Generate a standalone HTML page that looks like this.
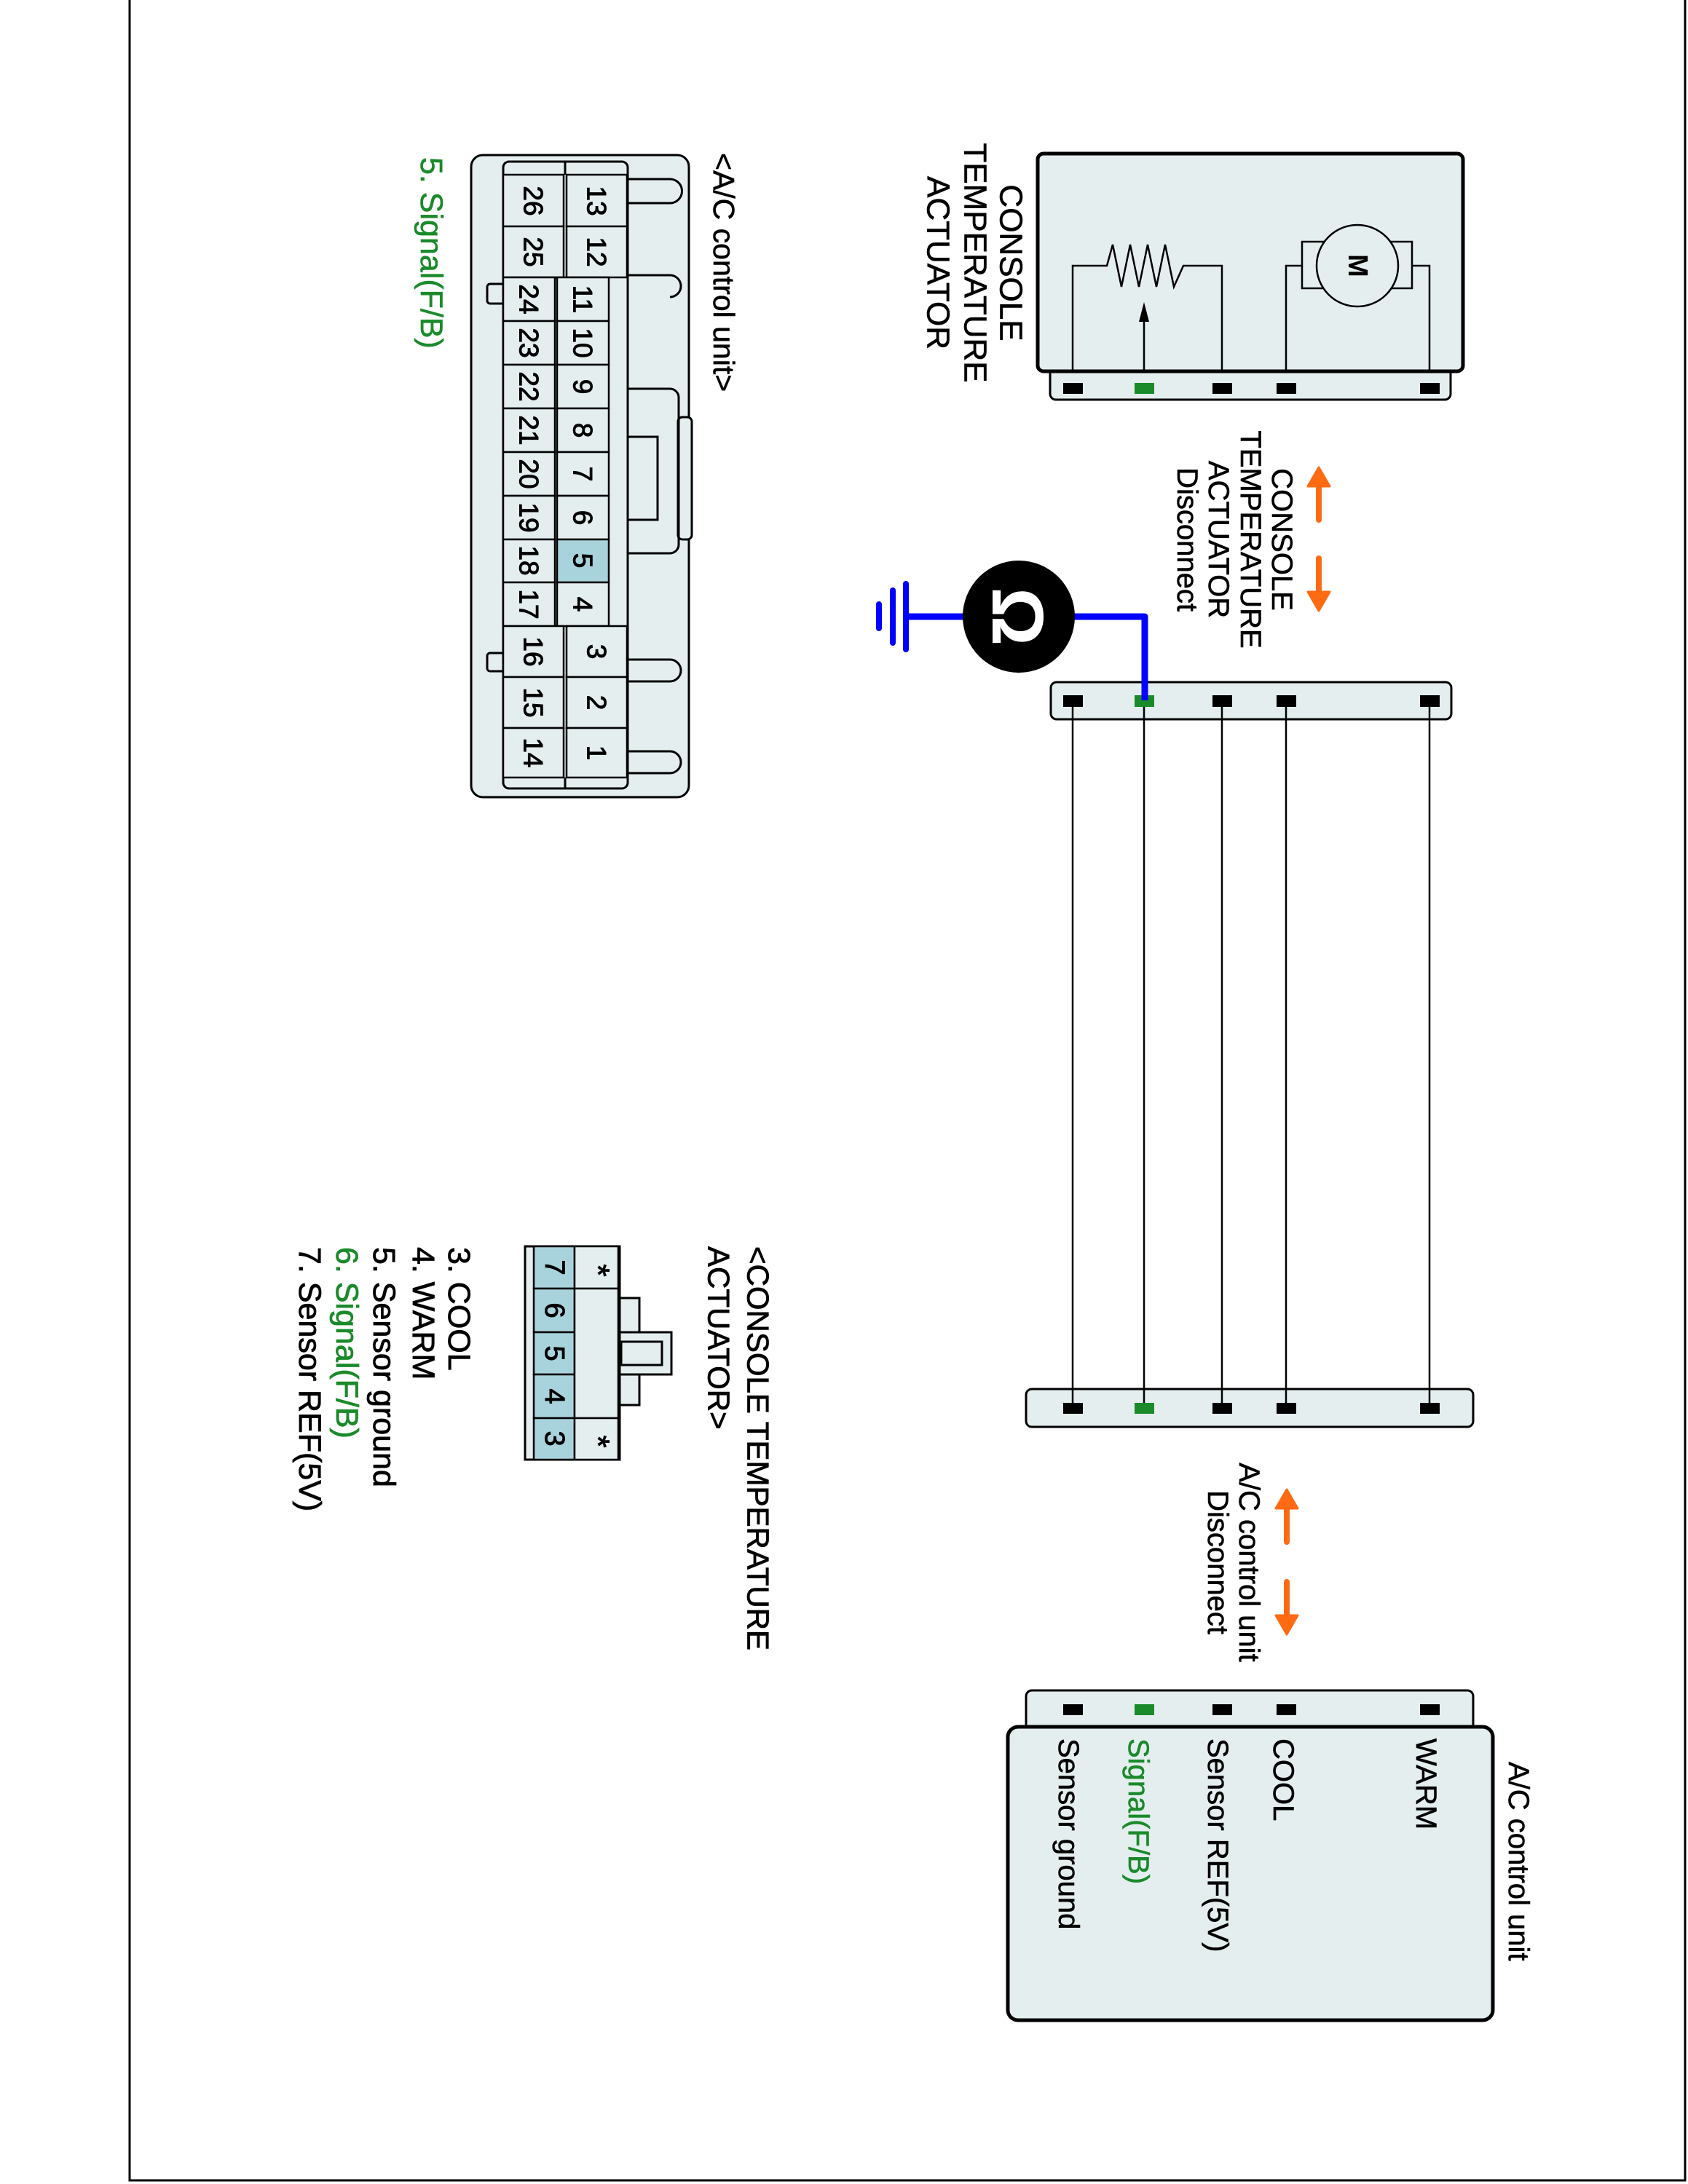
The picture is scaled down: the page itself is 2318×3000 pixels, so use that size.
<!DOCTYPE html>
<html><head><meta charset="utf-8"><style>
html,body{margin:0;padding:0;background:#fff;}
svg{display:block;}
text{font-family:"Liberation Sans",Arial,sans-serif;}
</style></head><body>
<svg width="2318" height="3000" viewBox="0 0 2318 3000" xmlns="http://www.w3.org/2000/svg">
<path d="M178,0 V2995 H2314 V0" fill="none" stroke="#000" stroke-width="3"/>

<rect x="1442" y="500" width="550" height="49" rx="8" fill="#e4eeef" stroke="#000" stroke-width="3"/>
<rect x="1425" y="211" width="584" height="299" rx="8" fill="#e4eeef" stroke="#000" stroke-width="5"/>
<g fill="#000">
<rect x="1460" y="526" width="27" height="15"/><rect x="1665" y="526" width="27" height="15"/>
<rect x="1753" y="526" width="27" height="15"/><rect x="1950" y="526" width="27" height="15"/>
</g>
<rect x="1558" y="526" width="27" height="15" fill="#1a8a2a"/>
<path d="M1473,510 V365 H1520 L1528,336 L1540,394 L1552,336 L1564,394 L1576,336 L1588,394 L1600,336 L1612,394 L1625,365 H1678 V510" fill="none" stroke="#000" stroke-width="2.5"/>
<line x1="1571" y1="510" x2="1571" y2="430" stroke="#000" stroke-width="2.5"/>
<polygon points="1571,415 1564,442 1578,442" fill="#000"/>
<path d="M1766,510 V365 H1788 M1963,510 V365 H1939" fill="none" stroke="#000" stroke-width="2.5"/>
<rect x="1788" y="332" width="151" height="64" fill="#e4eeef" stroke="#000" stroke-width="2.5"/>
<circle cx="1864" cy="365" r="56" fill="#e4eeef" stroke="#000" stroke-width="2.5"/>
<text transform="translate(1864,365) rotate(90)" text-anchor="middle" dominant-baseline="central" font-size="38" font-weight="bold">M</text>

<g font-size="44" text-anchor="middle" dominant-baseline="central" stroke="#000" stroke-width="0.6">
<text transform="translate(1388,361) rotate(90)">CONSOLE</text>
<text transform="translate(1339,361) rotate(90)">TEMPERATURE</text>
<text transform="translate(1288,361) rotate(90)">ACTUATOR</text>
</g>

<g font-size="40" text-anchor="middle" dominant-baseline="central" stroke="#000" stroke-width="0.6">
<text transform="translate(1760,741) rotate(90)">CONSOLE</text>
<text transform="translate(1717,741) rotate(90)">TEMPERATURE</text>
<text transform="translate(1673,741) rotate(90)">ACTUATOR</text>
<text transform="translate(1630,741) rotate(90)">Disconnect</text>
</g>
<g fill="#ff6a13" stroke="#ff6a13" stroke-linecap="round">
<line x1="1811" y1="665" x2="1811" y2="714" stroke-width="8"/>
<polygon points="1811,642 1796,668 1826,668" stroke-width="3" stroke-linejoin="round"/>
<line x1="1811" y1="767" x2="1811" y2="816" stroke-width="8"/>
<polygon points="1811,839 1796,813 1826,813" stroke-width="3" stroke-linejoin="round"/>
</g>

<path d="M1247,847 H1572 V960" fill="none" stroke="#0000ff" stroke-width="9" stroke-linejoin="round"/>
<g stroke="#0000ff" stroke-width="8" stroke-linecap="round">
<line x1="1244" y1="802" x2="1244" y2="892"/>
<line x1="1226" y1="811" x2="1226" y2="883"/>
<line x1="1207" y1="830" x2="1207" y2="863"/>
</g>
<circle cx="1399" cy="847" r="77" fill="#000"/>
<text transform="translate(1397,847) rotate(90)" text-anchor="middle" dominant-baseline="central" font-size="100" font-weight="bold" fill="#fff">Ω</text>

<rect x="1443" y="937" width="550" height="51" rx="8" fill="#e4eeef" stroke="#000" stroke-width="3"/>
<g stroke="#000" stroke-width="2.5">
<line x1="1473" y1="963" x2="1473" y2="1935"/>
<line x1="1571" y1="963" x2="1571" y2="1935"/>
<line x1="1678" y1="963" x2="1678" y2="1935"/>
<line x1="1766" y1="963" x2="1766" y2="1935"/>
<line x1="1963" y1="963" x2="1963" y2="1935"/>
</g>
<g fill="#000">
<rect x="1460" y="955" width="27" height="16"/><rect x="1665" y="955" width="27" height="16"/>
<rect x="1753" y="955" width="27" height="16"/><rect x="1950" y="955" width="27" height="16"/>
</g>
<rect x="1558" y="955" width="27" height="16" fill="#1a8a2a"/>
<path d="M1572,847 V962" stroke="#0000ff" stroke-width="9" fill="none"/>

<rect x="1409" y="1908" width="614" height="52" rx="8" fill="#e4eeef" stroke="#000" stroke-width="3"/>
<g stroke="#000" stroke-width="2.5">
<line x1="1473" y1="1908" x2="1473" y2="1935"/><line x1="1571" y1="1908" x2="1571" y2="1935"/>
<line x1="1678" y1="1908" x2="1678" y2="1935"/><line x1="1766" y1="1908" x2="1766" y2="1935"/>
<line x1="1963" y1="1908" x2="1963" y2="1935"/>
</g>
<g fill="#000">
<rect x="1460" y="1927" width="27" height="15"/><rect x="1665" y="1927" width="27" height="15"/>
<rect x="1753" y="1927" width="27" height="15"/><rect x="1950" y="1927" width="27" height="15"/>
</g>
<rect x="1558" y="1927" width="27" height="15" fill="#1a8a2a"/>

<g font-size="40" text-anchor="middle" dominant-baseline="central" stroke="#000" stroke-width="0.6">
<text transform="translate(1715,2146) rotate(90)">A/C control unit</text>
<text transform="translate(1672,2146) rotate(90)">Disconnect</text>
</g>
<g fill="#ff6a13" stroke="#ff6a13" stroke-linecap="round">
<line x1="1767" y1="2068" x2="1767" y2="2118" stroke-width="8"/>
<polygon points="1767,2046 1752,2072 1782,2072" stroke-width="3" stroke-linejoin="round"/>
<line x1="1767" y1="2173" x2="1767" y2="2222" stroke-width="8"/>
<polygon points="1767,2245 1752,2219 1782,2219" stroke-width="3" stroke-linejoin="round"/>
</g>

<rect x="1409" y="2322" width="614" height="60" rx="8" fill="#e4eeef" stroke="#000" stroke-width="3"/>
<g fill="#000">
<rect x="1460" y="2341" width="27" height="15"/><rect x="1665" y="2341" width="27" height="15"/>
<rect x="1753" y="2341" width="27" height="15"/><rect x="1950" y="2341" width="27" height="15"/>
</g>
<rect x="1558" y="2341" width="27" height="15" fill="#1a8a2a"/>
<rect x="1384" y="2372" width="666" height="403" rx="14" fill="#e4eeef" stroke="#000" stroke-width="5"/>
<g font-size="40" dominant-baseline="central" stroke-width="0.6">
<text transform="translate(1958,2388) rotate(90)" stroke="#000">WARM</text>
<text transform="translate(1762,2388) rotate(90)" stroke="#000">COOL</text>
<text transform="translate(1672,2388) rotate(90)" stroke="#000">Sensor REF(5V)</text>
<text transform="translate(1563,2388) rotate(90)" fill="#1a8a2a" stroke="#1a8a2a">Signal(F/B)</text>
<text transform="translate(1467,2388) rotate(90)" stroke="#000">Sensor ground</text>
<text transform="translate(2085,2420) rotate(90)" stroke="#000">A/C control unit</text>
</g>

<rect x="647" y="213" width="299" height="882" rx="16" fill="#e4eeef" stroke="#000" stroke-width="3"/>
<rect x="931" y="573" width="19" height="168" rx="6" fill="#e4eeef" stroke="#000" stroke-width="3"/>
<g fill="#e4eeef" stroke="#000" stroke-width="3">
<rect x="669" y="390" width="24" height="27" rx="4"/>
<rect x="669" y="897" width="24" height="25" rx="4"/>
</g>
<g fill="none" stroke="#000" stroke-width="3">
<path d="M862,246 H920 a16,16 0 0 1 0,33 H862"/>
<path d="M862,378 H920 a15,15 0 0 1 0,30"/>
<path d="M862,906 H920 a15,15 0 0 1 0,30 H862"/>
<path d="M862,1032 H920 a15,15 0 0 1 0,30 H862"/>
<path d="M862,408 V534 H920 a12,12 0 0 1 12,12 V748 a12,12 0 0 1 -12,12 H862 V860"/>
<path d="M862,600 H903 V633 M862,714 H903 V681 M903,600 V714"/>
</g>
<rect x="691" y="222" width="171" height="861" rx="8" fill="#e4eeef" stroke="#000" stroke-width="3"/>
<line x1="776" y1="222" x2="776" y2="240" stroke="#000" stroke-width="3"/>
<line x1="776" y1="1068" x2="776" y2="1083" stroke="#000" stroke-width="3"/>
<g fill="#e4eeef" stroke="#000" stroke-width="2.5">
<rect x="691" y="240" width="83" height="71"/><rect x="691" y="311" width="83" height="70"/>
<rect x="778" y="240" width="83" height="71"/><rect x="778" y="311" width="83" height="70"/>
<rect x="691" y="381" width="71" height="60"/><rect x="691" y="441" width="71" height="60"/>
<rect x="691" y="501" width="71" height="60"/><rect x="691" y="561" width="71" height="60"/>
<rect x="691" y="621" width="71" height="60"/><rect x="691" y="681" width="71" height="60"/>
<rect x="691" y="741" width="71" height="59"/><rect x="691" y="800" width="71" height="60"/>
<rect x="765" y="381" width="71" height="60"/><rect x="765" y="441" width="71" height="60"/>
<rect x="765" y="501" width="71" height="60"/><rect x="765" y="561" width="71" height="60"/>
<rect x="765" y="621" width="71" height="60"/><rect x="765" y="681" width="71" height="60"/>
<rect x="765" y="741" width="71" height="59" fill="#a9d3dc"/><rect x="765" y="800" width="71" height="60"/>
<rect x="691" y="860" width="83" height="70"/><rect x="691" y="930" width="83" height="70"/><rect x="691" y="1000" width="83" height="68"/>
<rect x="778" y="860" width="83" height="70"/><rect x="778" y="930" width="83" height="70"/><rect x="778" y="1000" width="83" height="68"/>
</g>
<g font-size="37" text-anchor="middle" dominant-baseline="central" stroke="#000" stroke-width="1">
<text transform="translate(732,276) rotate(90)">26</text><text transform="translate(732,346) rotate(90)">25</text>
<text transform="translate(819,276) rotate(90)">13</text><text transform="translate(819,346) rotate(90)">12</text>
<text transform="translate(726,411) rotate(90)">24</text><text transform="translate(726,471) rotate(90)">23</text>
<text transform="translate(726,531) rotate(90)">22</text><text transform="translate(726,591) rotate(90)">21</text>
<text transform="translate(726,651) rotate(90)">20</text><text transform="translate(726,711) rotate(90)">19</text>
<text transform="translate(726,770) rotate(90)">18</text><text transform="translate(726,830) rotate(90)">17</text>
<text transform="translate(800,411) rotate(90)">11</text><text transform="translate(800,471) rotate(90)">10</text>
<text transform="translate(800,531) rotate(90)">9</text><text transform="translate(800,591) rotate(90)">8</text>
<text transform="translate(800,651) rotate(90)">7</text><text transform="translate(800,711) rotate(90)">6</text>
<text transform="translate(800,770) rotate(90)">5</text><text transform="translate(800,830) rotate(90)">4</text>
<text transform="translate(732,895) rotate(90)">16</text><text transform="translate(732,965) rotate(90)">15</text><text transform="translate(732,1034) rotate(90)">14</text>
<text transform="translate(819,895) rotate(90)">3</text><text transform="translate(819,965) rotate(90)">2</text><text transform="translate(819,1034) rotate(90)">1</text>
</g>
<text transform="translate(994,210) rotate(90)" font-size="41" dominant-baseline="central" stroke="#000" stroke-width="0.6">&lt;A/C control unit&gt;</text>
<text transform="translate(592,216) rotate(90)" font-size="43" dominant-baseline="central" fill="#1a8a2a" stroke="#1a8a2a" stroke-width="0.6">5. Signal(F/B)</text>

<g fill="#e4eeef" stroke="#000" stroke-width="3">
<rect x="849" y="1783" width="29" height="147"/>
<rect x="851" y="1830" width="71" height="58"/>
<rect x="853" y="1843" width="56" height="32"/>
<rect x="721" y="1712" width="130" height="293"/>
</g>
<g fill="#a9d3dc" stroke="#000" stroke-width="2.5">
<rect x="733" y="1712" width="56" height="58"/><rect x="733" y="1770" width="56" height="60"/>
<rect x="733" y="1830" width="56" height="58"/><rect x="733" y="1888" width="56" height="60"/>
<rect x="733" y="1948" width="56" height="57"/>
</g>
<g fill="#e4eeef" stroke="#000" stroke-width="2.5">
<rect x="789" y="1712" width="60" height="58"/><rect x="789" y="1770" width="60" height="178"/>
<rect x="789" y="1948" width="60" height="57"/>
</g>
<g font-size="38" text-anchor="middle" dominant-baseline="central" stroke="#000" stroke-width="1">
<text transform="translate(761,1741) rotate(90)">7</text><text transform="translate(761,1800) rotate(90)">6</text>
<text transform="translate(761,1859) rotate(90)">5</text><text transform="translate(761,1918) rotate(90)">4</text>
<text transform="translate(761,1976) rotate(90)">3</text>
<text transform="translate(821,1745) rotate(90)" font-size="44">*</text><text transform="translate(821,1980) rotate(90)" font-size="44">*</text>
</g>
<g font-size="42" dominant-baseline="central" stroke="#000" stroke-width="0.8">
<text transform="translate(1041,1712) rotate(90)">&lt;CONSOLE TEMPERATURE</text>
<text transform="translate(987,1712) rotate(90)">ACTUATOR&gt;</text>
</g>
<g font-size="43" dominant-baseline="central" stroke-width="0.8">
<text transform="translate(630,1713) rotate(90)" stroke="#000">3. COOL</text>
<text transform="translate(581,1713) rotate(90)" stroke="#000">4. WARM</text>
<text transform="translate(527,1713) rotate(90)" stroke="#000">5. Sensor ground</text>
<text transform="translate(476,1713) rotate(90)" fill="#1a8a2a" stroke="#1a8a2a">6. Signal(F/B)</text>
<text transform="translate(425,1713) rotate(90)" stroke="#000">7. Sensor REF(5V)</text>
</g>
</svg>
</body></html>
